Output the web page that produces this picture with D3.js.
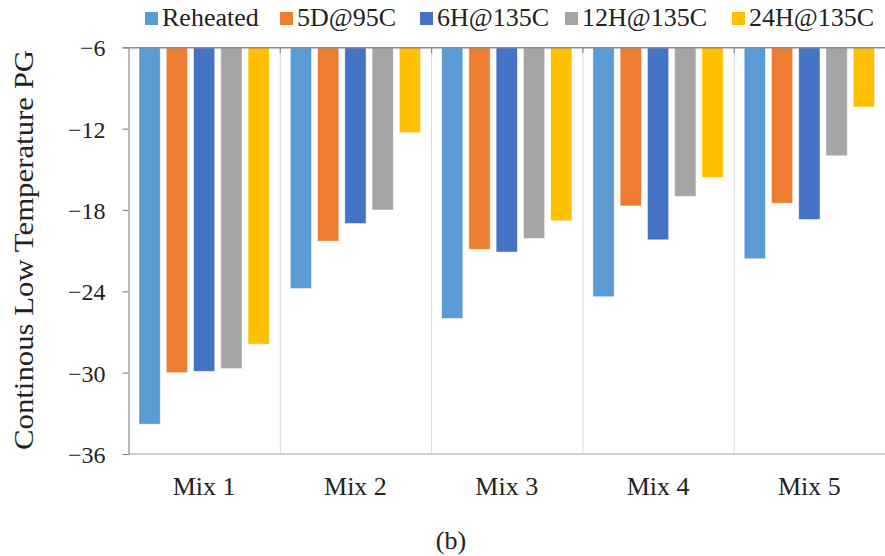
<!DOCTYPE html>
<html>
<head>
<meta charset="utf-8">
<script src="https://cdn.jsdelivr.net/npm/d3@7"></script>
<style>
  body { margin: 0; background: #fff; }
  text { font-family: "Liberation Serif", "Times New Roman", serif; fill: #222; }
</style>
</head>
<body>
<div id="chart"></div>
<script>
// values
const mixes = ["Mix 1", "Mix 2", "Mix 3", "Mix 4", "Mix 5"];
const series = ["Reheated", "5D@95C", "6H@135C", "12H@135C", "24H@135C"];
const colors = ["#5B9BD5", "#ED7D31", "#4472C4", "#A5A5A5", "#FFC000"];
const reheated = [-33.8, -23.8, -26.0, -24.4, -21.6];
const d5at95 = [-30.0, -20.3, -20.9, -17.7, -17.5];
const h6at135 = [-29.9, -19.0, -21.1, -20.2, -18.7];
const h12at135 = [-29.7, -18.0, -20.1, -17.0, -14.0];
const h24at135 = [-27.9, -12.3, -18.8, -15.6, -10.4];
const yTicks = [-6, -12, -18, -24, -30, -36];

const values = [reheated, d5at95, h6at135, h12at135, h24at135];

var width = 885, height = 556;
var plotLeft = 128.5, plotRight = 885, plotTop = 47.3, plotBottom = 454;
var serif = "'Liberation Serif', 'Times New Roman', serif";

var svg = d3.select("#chart")
    .append("svg")
    .attr("width", width)
    .attr("height", height);

var x0 = d3.scaleBand()
    .domain(mixes)
    .range([plotLeft, plotLeft + 151.3 * 5])
    .padding(0);

var x1 = d3.scaleBand()
    .domain(series)
    .range([10.5, x0.bandwidth() - 10.5])
    .paddingInner(0.22)
    .paddingOuter(0);

var y = d3.scaleLinear()
    .domain([-6, -36])
    .range([plotTop, plotBottom]);

// vertical gridlines between categories
svg.append("g")
    .selectAll("line")
    .data(mixes.slice(1))
    .enter()
    .append("line")
    .attr("x1", d => x0(d) + 0.5)
    .attr("x2", d => x0(d) + 0.5)
    .attr("y1", plotTop)
    .attr("y2", plotBottom)
    .attr("stroke", "#d9d9d9")
    .attr("stroke-width", 1);

// bottom line at -36
svg.append("line")
    .attr("x1", plotLeft).attr("x2", plotRight)
    .attr("y1", y(-36)).attr("y2", y(-36))
    .attr("stroke", "#a6a6a6")
    .attr("stroke-width", 1.2);

// bars
var groups = svg.selectAll(".mix")
    .data(mixes)
    .enter()
    .append("g")
    .attr("class", "mix")
    .attr("transform", d => "translate(" + x0(d) + ",0)");

groups.selectAll("rect")
    .data((d, i) => series.map((s, j) => ({ s: s, j: j, v: values[j][i] })))
    .enter()
    .append("rect")
    .attr("x", d => x1(d.s))
    .attr("width", x1.bandwidth())
    .attr("y", y(-6))
    .attr("height", d => y(d.v) - y(-6))
    .attr("fill", d => colors[d.j])
    .attr("stroke", "#fff")
    .attr("stroke-opacity", 0.6)
    .attr("stroke-width", 0.8);

// y axis
var yAxis = d3.axisLeft(y)
    .tickValues(yTicks)
    .tickSize(6)
    .tickFormat(d3.format("d"));

var gY = svg.append("g")
    .attr("transform", "translate(" + plotLeft + ",0)")
    .call(yAxis);
gY.select(".domain").attr("stroke", "#8c8c8c").attr("stroke-width", 1.2);
gY.selectAll(".tick line").attr("stroke", "#8c8c8c").attr("stroke-width", 1.2);
gY.selectAll(".tick text")
    .attr("x", -23)
    .attr("dy", "0.35em")
    .style("font-family", serif)
    .style("font-size", "24px")
    .attr("fill", "#222");

// top category axis at -6
var xAxis = d3.axisTop(x0).tickSize(0).tickFormat("");
var gX = svg.append("g")
    .attr("transform", "translate(0," + plotTop + ")")
    .call(xAxis);
gX.select(".domain").attr("stroke", "#8c8c8c").attr("stroke-width", 1.5);
gX.selectAll(".tick").remove();
svg.append("g")
    .selectAll("line")
    .data(mixes.slice(1))
    .enter()
    .append("line")
    .attr("x1", d => x0(d) + 0.5)
    .attr("x2", d => x0(d) + 0.5)
    .attr("y1", plotTop)
    .attr("y2", plotTop + 6)
    .attr("stroke", "#8c8c8c")
    .attr("stroke-width", 1.2);

// category labels at the bottom
svg.append("g")
    .selectAll("text")
    .data(mixes)
    .enter()
    .append("text")
    .attr("x", d => x0(d) + x0.bandwidth() / 2)
    .attr("y", 495)
    .attr("text-anchor", "middle")
    .style("font-size", "26px")
    .text(d => d);

// y axis title
svg.append("text")
    .attr("transform", "translate(33,250) rotate(-90)")
    .attr("text-anchor", "middle")
    .attr("textLength", 400)
    .attr("lengthAdjust", "spacingAndGlyphs")
    .style("font-size", "27px")
    .text("Continous Low Temperature PG");

// legend
var legendX = [145, 280, 420, 565, 732];
var legend = svg.selectAll(".legend")
    .data(series)
    .enter()
    .append("g")
    .attr("class", "legend")
    .attr("transform", (d, i) => "translate(" + legendX[i] + ",0)");
legend.append("rect")
    .attr("x", 0)
    .attr("y", 12)
    .attr("width", 13)
    .attr("height", 13)
    .attr("fill", (d, i) => colors[i]);
legend.append("text")
    .attr("x", 17)
    .attr("y", 26)
    .style("font-size", "26px")
    .text(d => d);

// caption
svg.append("text")
    .attr("x", 451)
    .attr("y", 549)
    .attr("text-anchor", "middle")
    .style("font-size", "26px")
    .text("(b)");
</script>
</body>
</html>
